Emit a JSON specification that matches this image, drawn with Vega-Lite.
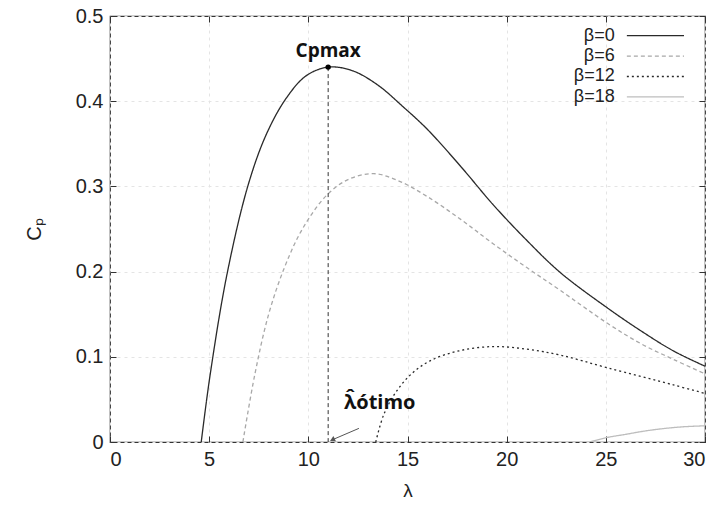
{
  "$schema": "https://vega.github.io/schema/vega-lite/v6.json",
  "width": 595,
  "height": 426,
  "autosize": "none",
  "padding": {"left": 110, "top": 16, "right": 14, "bottom": 63},
  "background": "white",
  "config": {
    "view": {"stroke": "#333", "strokeWidth": 1.2}
  },
  "datasets": {
    "curves": [
      {"beta": "β=0", "lam": 4.6, "cp": 0.0},
      {"beta": "β=0", "lam": 5.05, "cp": 0.079},
      {"beta": "β=0", "lam": 5.9, "cp": 0.197},
      {"beta": "β=0", "lam": 6.97, "cp": 0.302},
      {"beta": "β=0", "lam": 7.9, "cp": 0.362},
      {"beta": "β=0", "lam": 8.9, "cp": 0.404},
      {"beta": "β=0", "lam": 9.9, "cp": 0.430},
      {"beta": "β=0", "lam": 11.0, "cp": 0.440},
      {"beta": "β=0", "lam": 12.2, "cp": 0.436},
      {"beta": "β=0", "lam": 13.5, "cp": 0.419},
      {"beta": "β=0", "lam": 14.8, "cp": 0.393},
      {"beta": "β=0", "lam": 16.0, "cp": 0.367},
      {"beta": "β=0", "lam": 17.7, "cp": 0.323},
      {"beta": "β=0", "lam": 19.3, "cp": 0.279},
      {"beta": "β=0", "lam": 21.0, "cp": 0.237},
      {"beta": "β=0", "lam": 22.7, "cp": 0.199},
      {"beta": "β=0", "lam": 25.1, "cp": 0.157},
      {"beta": "β=0", "lam": 26.8, "cp": 0.13},
      {"beta": "β=0", "lam": 28.4, "cp": 0.107},
      {"beta": "β=0", "lam": 30.0, "cp": 0.089},
      {"beta": "β=6", "lam": 6.7, "cp": 0.0},
      {"beta": "β=6", "lam": 7.3, "cp": 0.079},
      {"beta": "β=6", "lam": 8.0, "cp": 0.150},
      {"beta": "β=6", "lam": 8.8, "cp": 0.205},
      {"beta": "β=6", "lam": 9.7, "cp": 0.250},
      {"beta": "β=6", "lam": 10.9, "cp": 0.289},
      {"beta": "β=6", "lam": 12.0, "cp": 0.308},
      {"beta": "β=6", "lam": 13.3, "cp": 0.315},
      {"beta": "β=6", "lam": 14.6, "cp": 0.306},
      {"beta": "β=6", "lam": 16.0, "cp": 0.288},
      {"beta": "β=6", "lam": 17.7, "cp": 0.261},
      {"beta": "β=6", "lam": 19.3, "cp": 0.233},
      {"beta": "β=6", "lam": 21.0, "cp": 0.205},
      {"beta": "β=6", "lam": 22.7, "cp": 0.178},
      {"beta": "β=6", "lam": 25.1, "cp": 0.139},
      {"beta": "β=6", "lam": 26.8, "cp": 0.115},
      {"beta": "β=6", "lam": 28.4, "cp": 0.097},
      {"beta": "β=6", "lam": 30.0, "cp": 0.08},
      {"beta": "β=12", "lam": 13.4, "cp": 0.0},
      {"beta": "β=12", "lam": 13.8, "cp": 0.032},
      {"beta": "β=12", "lam": 14.4, "cp": 0.058},
      {"beta": "β=12", "lam": 15.2, "cp": 0.080},
      {"beta": "β=12", "lam": 16.2, "cp": 0.096},
      {"beta": "β=12", "lam": 17.6, "cp": 0.107},
      {"beta": "β=12", "lam": 19.3, "cp": 0.112},
      {"beta": "β=12", "lam": 21.0, "cp": 0.109},
      {"beta": "β=12", "lam": 22.7, "cp": 0.102},
      {"beta": "β=12", "lam": 25.1, "cp": 0.087},
      {"beta": "β=12", "lam": 28.4, "cp": 0.067},
      {"beta": "β=12", "lam": 30.0, "cp": 0.057},
      {"beta": "β=18", "lam": 24.2, "cp": 0.0},
      {"beta": "β=18", "lam": 25.0, "cp": 0.005},
      {"beta": "β=18", "lam": 26.0, "cp": 0.009},
      {"beta": "β=18", "lam": 27.0, "cp": 0.013},
      {"beta": "β=18", "lam": 28.0, "cp": 0.016},
      {"beta": "β=18", "lam": 29.0, "cp": 0.018},
      {"beta": "β=18", "lam": 30.0, "cp": 0.019}
    ],
    "legend": [
      {"beta": "β=0", "lam": 25.45, "lam2": 26.06, "lam3": 28.94, "cp": 0.477},
      {"beta": "β=6", "lam": 25.45, "lam2": 26.06, "lam3": 28.94, "cp": 0.453},
      {"beta": "β=12", "lam": 25.45, "lam2": 26.06, "lam3": 28.94, "cp": 0.429},
      {"beta": "β=18", "lam": 25.45, "lam2": 26.06, "lam3": 28.94, "cp": 0.405}
    ],
    "peak": [{"label": "Cpmax", "lam": 11.0, "cp": 0.440, "cp0": 0.0}],
    "opt": [{"label": "λ̂ótimo", "lam": 13.6, "cp": 0.046, "lamA": 12.55, "cpA": 0.016, "lamB": 11.25, "cpB": 0.003}]
  },
  "layer": [
    {
      "data": {"name": "curves"},
      "mark": {"type": "line", "interpolate": "catmull-rom", "strokeWidth": 1.3, "clip": true},
      "encoding": {
        "x": {"field": "lam", "type": "quantitative", "scale": {"domain": [0, 30], "nice": false, "zero": false},
              "axis": {"orient": "bottom", "title": "λ", "values": [0, 5, 10, 15, 20, 25, 30], "tickSize": -6, "tickColor": "#333", "labelFont": "Liberation Sans", "labelFontSize": 20, "labelColor": "#222", "titleFont": "Liberation Sans", "titleFontSize": 19, "titleFontWeight": "normal", "titleColor": "#222", "labelPadding": 13, "titlePadding": 12, "grid": true, "gridColor": "#e4e4e4", "gridDash": [3, 4], "domain": false}},
        "y": {"field": "cp", "type": "quantitative", "scale": {"domain": [0, 0.5], "nice": false},
              "axis": {"orient": "left", "title": "Cₚ", "values": [0, 0.1, 0.2, 0.3, 0.4, 0.5], "format": "~g", "tickSize": -6, "tickColor": "#333", "labelFont": "Liberation Sans", "labelFontSize": 20, "labelColor": "#222", "titleFont": "Liberation Sans", "titleFontSize": 20, "titleFontWeight": "normal", "titleColor": "#222", "labelPadding": 13, "titlePadding": 31, "grid": true, "gridColor": "#e4e4e4", "gridDash": [3, 4], "domain": false}},
        "color": {"field": "beta", "type": "nominal", "scale": {"domain": ["β=0", "β=6", "β=12", "β=18"], "range": ["#2a2a2a", "#a8a8a8", "#2a2a2a", "#bdbdbd"]}, "legend": null},
        "strokeDash": {"field": "beta", "type": "nominal", "scale": {"domain": ["β=0", "β=6", "β=12", "β=18"], "range": [[1, 0], [4, 3], [2, 3], [1, 0]]}, "legend": null}
      }
    },
    {
      "data": {"name": "peak"},
      "mark": {"type": "rule", "strokeDash": [4, 3], "color": "#333", "strokeWidth": 1},
      "encoding": {
        "x": {"field": "lam", "type": "quantitative", "axis": {"orient": "top", "values": [0, 5, 10, 15, 20, 25, 30], "labels": false, "tickSize": -6, "tickColor": "#333", "title": null, "grid": false, "domain": false}},
        "y": {"field": "cp", "type": "quantitative", "axis": {"orient": "right", "values": [0, 0.1, 0.2, 0.3, 0.4, 0.5], "labels": false, "tickSize": -6, "tickColor": "#333", "title": null, "grid": false, "domain": false}},
        "y2": {"field": "cp0"}
      }
    },
    {
      "data": {"name": "peak"},
      "mark": {"type": "point", "filled": true, "color": "#000", "size": 30, "opacity": 1},
      "encoding": {
        "x": {"field": "lam", "type": "quantitative", "axis": null},
        "y": {"field": "cp", "type": "quantitative", "axis": null}
      }
    },
    {
      "data": {"name": "peak"},
      "mark": {"type": "text", "font": "Open Sans", "fontWeight": "bold", "fontSize": 19, "color": "#111", "dy": -16},
      "encoding": {
        "x": {"field": "lam", "type": "quantitative", "axis": null},
        "y": {"field": "cp", "type": "quantitative", "axis": null},
        "text": {"field": "label"}
      }
    },
    {
      "data": {"name": "opt"},
      "mark": {"type": "text", "font": "Open Sans", "fontWeight": "bold", "fontSize": 20, "color": "#111"},
      "encoding": {
        "x": {"field": "lam", "type": "quantitative", "axis": null},
        "y": {"field": "cp", "type": "quantitative", "axis": null},
        "text": {"field": "label"}
      }
    },
    {
      "data": {"name": "opt"},
      "mark": {"type": "rule", "color": "#555", "strokeWidth": 1},
      "encoding": {
        "x": {"field": "lamA", "type": "quantitative", "axis": null},
        "y": {"field": "cpA", "type": "quantitative", "axis": null},
        "x2": {"field": "lamB"},
        "y2": {"field": "cpB"}
      }
    },
    {
      "data": {"name": "opt"},
      "mark": {"type": "point", "shape": "triangle", "filled": true, "color": "#555", "size": 35, "angle": 244, "opacity": 1},
      "encoding": {
        "x": {"field": "lamB", "type": "quantitative", "axis": null},
        "y": {"field": "cpB", "type": "quantitative", "axis": null}
      }
    },
    {
      "data": {"name": "legend"},
      "mark": {"type": "text", "align": "right", "baseline": "middle", "font": "Liberation Sans", "fontSize": 18, "color": "#222"},
      "encoding": {
        "x": {"field": "lam", "type": "quantitative", "axis": null},
        "y": {"field": "cp", "type": "quantitative", "axis": null},
        "text": {"field": "beta"}
      }
    },
    {
      "data": {"name": "legend"},
      "mark": {"type": "rule", "strokeWidth": 1.3},
      "encoding": {
        "x": {"field": "lam2", "type": "quantitative", "axis": null},
        "x2": {"field": "lam3"},
        "y": {"field": "cp", "type": "quantitative", "axis": null},
        "color": {"field": "beta", "type": "nominal", "scale": {"domain": ["β=0", "β=6", "β=12", "β=18"], "range": ["#2a2a2a", "#a8a8a8", "#2a2a2a", "#bdbdbd"]}, "legend": null},
        "strokeDash": {"field": "beta", "type": "nominal", "scale": {"domain": ["β=0", "β=6", "β=12", "β=18"], "range": [[1, 0], [4, 3], [2, 3], [1, 0]]}, "legend": null}
      }
    }
  ],
  "resolve": {"axis": {"x": "independent", "y": "independent"}}
}
